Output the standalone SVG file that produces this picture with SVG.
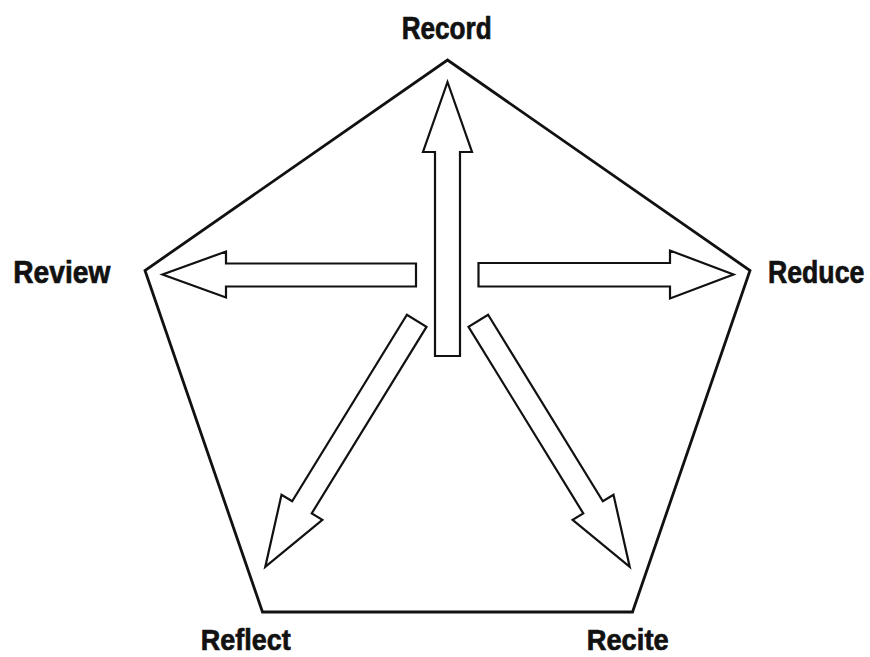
<svg xmlns="http://www.w3.org/2000/svg" width="870" height="657" viewBox="0 0 870 657">
  <style>
    .frame { fill: none; stroke: #111; stroke-width: 2.8; stroke-linejoin: miter; }
    .arrow { fill: #fff; stroke: #111; stroke-width: 2.2; stroke-linejoin: miter; }
    .label { font-family: "Liberation Sans", Arial, sans-serif; font-weight: bold; font-size: 31px; fill: #111; stroke: #111; stroke-width: 0.7; }
    .low { font-size: 30px; }
  </style>
  <rect x="0" y="0" width="870" height="657" fill="#fff"/>
  <g id="pentagon">
    <polygon class="frame" points="447.5,60 750,270.5 632.5,612 262.5,612 145,270.5"/>
  </g>
  <g id="connectors">
    <polygon id="arrow-record" class="arrow" points="435,356 460,356 460,152 472,152 447.5,82 423,152 435,152"/>
    <polygon id="arrow-review" class="arrow" points="416,263.5 226,263.5 226,251.5 162.5,274.5 226,297.5 226,286.5 416,286.5"/>
    <polygon id="arrow-reduce" class="arrow" points="478.5,263 670,263 670,250.5 733.5,274.5 670,298.5 670,286.5 478.5,286.5"/>
    <polygon id="arrow-recite" class="arrow" transform="translate(478.3,320.8) rotate(58.4)" points="0,-11.5 219,-11.5 219,-24 289,0 219,24 219,11.5 0,11.5"/>
    <polygon id="arrow-reflect" class="arrow" transform="translate(416.7,320.8) rotate(121.6)" points="0,-11.5 219,-11.5 219,-24 289,0 219,24 219,11.5 0,11.5"/>
  </g>
  <g id="node-record">
    <text class="label" x="401.7" y="38.5" textLength="90" lengthAdjust="spacingAndGlyphs">Record</text>
  </g>
  <g id="node-review">
    <text class="label" x="13.3" y="283" textLength="97" lengthAdjust="spacingAndGlyphs">Review</text>
  </g>
  <g id="node-reduce">
    <text class="label" transform="translate(768,282.5) scale(0.86,1)" x="0" y="0">Reduce</text>
  </g>
  <g id="node-reflect">
    <text class="label low" x="200.7" y="650" textLength="90" lengthAdjust="spacingAndGlyphs">Reflect</text>
  </g>
  <g id="node-recite">
    <text class="label low" x="586.7" y="650" textLength="82" lengthAdjust="spacingAndGlyphs">Recite</text>
  </g>
</svg>
